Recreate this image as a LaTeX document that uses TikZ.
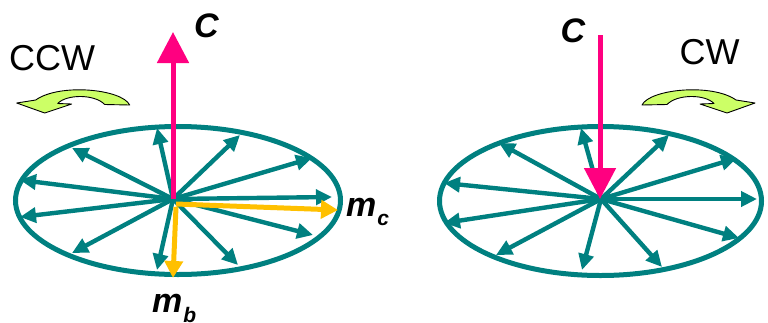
\documentclass[tikz,border=0pt]{standalone}
\usepackage{fontspec}
\setmainfont{Liberation Sans}
\usetikzlibrary{arrows.meta}
\definecolor{tealc}{RGB}{0,128,128}
\definecolor{pinkc}{RGB}{255,0,128}
\definecolor{yellowc}{RGB}{255,192,0}
\definecolor{limec}{RGB}{204,255,102}
\tikzset{
  ray/.style={draw=tealc,line width=4.4pt,-{Triangle[length=16pt,width=15pt]}},
  rim/.style={draw=tealc,line width=5pt},
  cvec/.style={draw=pinkc,line width=5pt,-{Triangle[length=31pt,width=31pt]}},
  mvec/.style={draw=yellowc,line width=5pt,-{Triangle[length=17pt,width=18pt]}},
  turn/.style={fill=limec,draw=black,line width=0.9pt,line join=round},
  lbl/.style={inner sep=0pt,anchor=base west},
}
\newcommand{\bigtxt}{\fontsize{36}{36}\selectfont}
\newcommand{\vecfont}{\fontsize{34}{34}\selectfont\bfseries\itshape}
\newcommand{\subfont}{\fontsize{21}{21}\selectfont\bfseries\itshape}
\begin{document}
\begin{tikzpicture}[x=1pt,y=-1pt]
\useasboundingbox (0,0) rectangle (768,322);
\clip (0,0) rectangle (768,322);
% ---------- left disc ----------
\coordinate (L) at (173,199);
\draw[rim] (178,200.5) ellipse [x radius=162.5, y radius=74];
\foreach \px/\py [count=\i] in {157/128,240/135,312/158,332/197,313/235,238/265,157/270,72/253,20/217,20/180,72/148}
  {\coordinate (le\i) at (\px,\py);
   \draw[ray] (L) -- (le\i);}
\coordinate (ym0) at (176,204);
\coordinate (ymc) at (338,210);
\coordinate (yb0) at (176,207);
\coordinate (ymb) at (173,278);
\draw[mvec] (ym0) -- (ymc);
\draw[mvec] (yb0) -- (ymb);
\coordinate (Ltop) at (173,32);
\draw[cvec] (L) -- (Ltop);
\node[lbl] (cL) at (194,37) {\vecfont C};
\node[lbl] (mc) at (346,216) {\vecfont m\hspace{1pt}\raisebox{-9pt}{\subfont c}};
\node[lbl] (mb) at (152,312) {\vecfont m\hspace{1pt}\raisebox{-10pt}{\subfont b}};
\node[lbl] (ccw) at (9,70.5) {\bigtxt CCW};
% ---------- right disc ----------
\coordinate (R) at (601,199);
\draw[rim] (600.5,201) ellipse [x radius=161, y radius=74.5];
\foreach \px/\py [count=\i] in {581/128,669/135,737/158,757/199,739/238,662/267,582/270,496/255,444/223,444/183,499/143}
  {\coordinate (re\i) at (\px,\py);
   \draw[ray] (R) -- (re\i);}
\coordinate (Rtop) at (600,35);
\coordinate (Rtip) at (600,199);
\draw[cvec] (Rtop) -- (Rtip);
\node[lbl] (cR) at (560.5,42) {\vecfont C};
\node[lbl] (cw) at (679.5,64) {\bigtxt CW};
% ---------- rotation arrows ----------
\draw[turn] (642,105) .. controls (650,89) and (712,83) .. (736,100) -- (755,103) -- (727,113) -- (700,104) -- (714,103.5) .. controls (705,94) and (677,94) .. (667,104.5) -- cycle;
\begin{scope}[xshift=771.7pt,xscale=-1]
\draw[turn] (642,105) .. controls (650,89) and (712,83) .. (736,100) -- (755,103) -- (727,113) -- (700,104) -- (714,103.5) .. controls (705,94) and (677,94) .. (667,104.5) -- cycle;
\end{scope}
\end{tikzpicture}
\end{document}
